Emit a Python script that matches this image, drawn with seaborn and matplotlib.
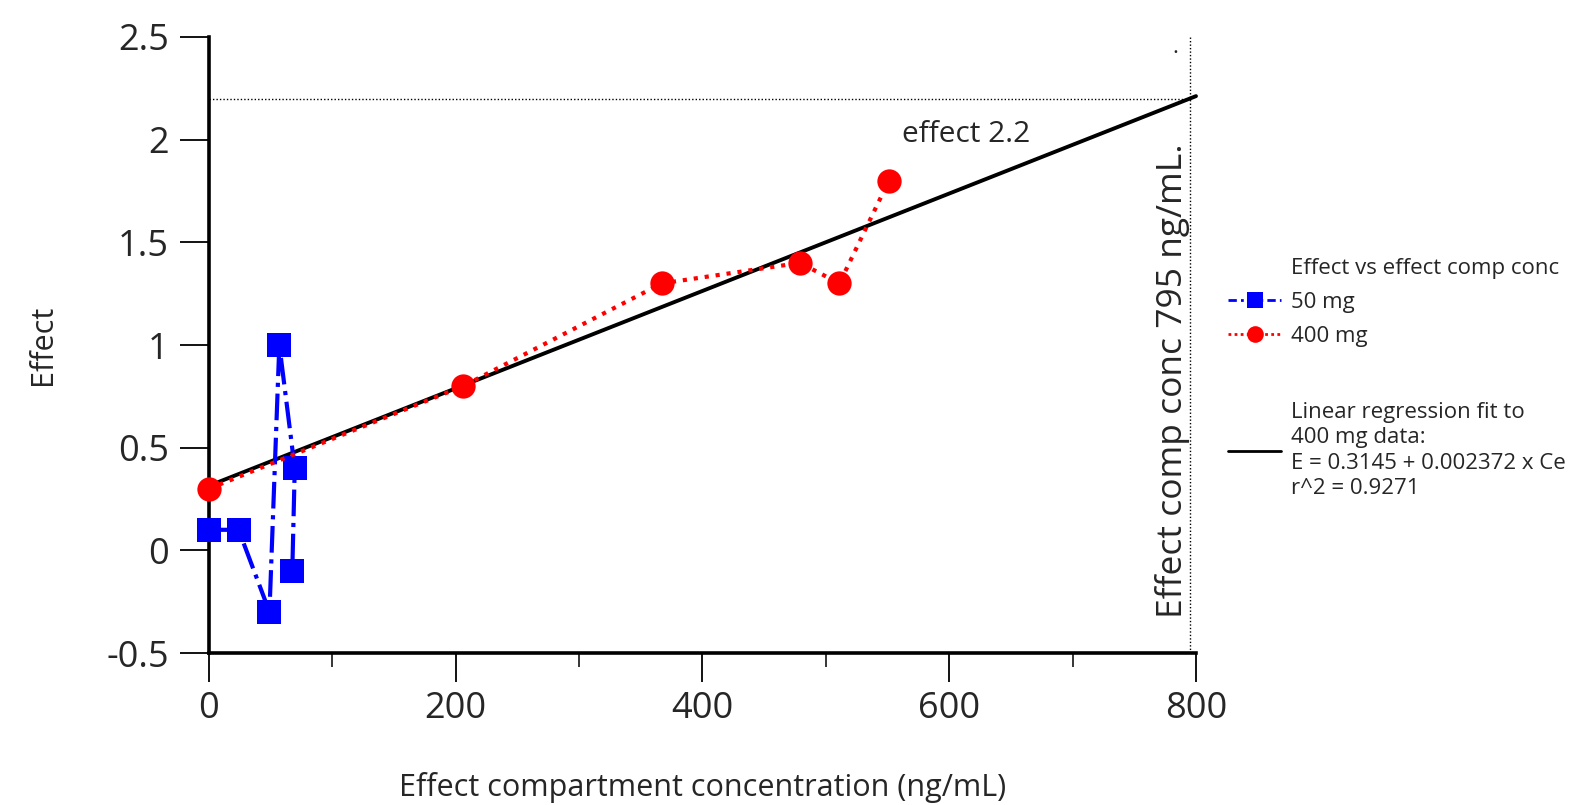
import numpy as np
import seaborn as sns
import matplotlib.pyplot as plt
from matplotlib.lines import Line2D
from matplotlib.ticker import FormatStrFormatter

# 50 mg dose: effect compartment concentration (ng/mL) vs effect
conc_50 = [0, 24, 49, 57, 69.5, 67.5]
effect_50 = [0.1, 0.1, -0.3, 1.0, 0.4, -0.1]
# 400 mg dose
conc_400 = [0, 206, 367, 479, 511, 551]
effect_400 = [0.3, 0.8, 1.3, 1.4, 1.3, 1.8]

# linear regression fit to the 400 mg data
fit_intercept = 0.3145
fit_slope = 0.002372
fit_range = [0, 800]
target_effect = 2.2
target_conc = 795

xticks = [0, 200, 400, 600, 800]
xminor = [100, 300, 500, 700]
yticks = [-0.5, 0, 0.5, 1, 1.5, 2, 2.5]

sns.set_style("ticks")
plt.rcParams["font.family"] = ["Open Sans", "DejaVu Sans"]
plt.rcParams["axes.unicode_minus"] = False

fig = plt.figure(figsize=(15.84, 8.05), dpi=100)
ax = fig.add_axes([209 / 1584, 1 - 653 / 805, 987 / 1584, 616 / 805])

fit_x = np.array(fit_range, dtype=float)
fit_y = fit_intercept + fit_slope * fit_x
sns.lineplot(x=fit_x, y=fit_y, color="black", lw=2.8, ax=ax, legend=False,
             clip_on=False, zorder=3)

# reference lines for effect 2.2
ax.hlines(target_effect, 0, target_conc, colors="black", lw=1, linestyles=(0, (1, 1.5)))
ax.vlines(target_conc, yticks[0], yticks[-1], colors="black", lw=1, linestyles=(0, (1, 1.5)))

sns.lineplot(x=conc_50, y=effect_50, sort=False, estimator=None, color="blue",
             ls="-.", lw=3, marker="s", ms=17, mec="blue", mew=0, ax=ax,
             legend=False, clip_on=False, zorder=4)
sns.lineplot(x=conc_400, y=effect_400, sort=False, estimator=None, color="red",
             ls=":", lw=3, marker="o", ms=17.5, mec="red", mew=0, ax=ax,
             legend=False, clip_on=False, zorder=5)

ax.text(562, 1.99, "effect 2.2", fontsize=21.5, ha="left", va="baseline")
ax.text(781, -0.33, "Effect comp conc 795 ng/mL.", fontsize=25.5, rotation=90,
        ha="center", va="bottom")
ax.text(783, 2.42, ".", fontsize=16, ha="center")

ax.set_xlim(fit_range)
ax.set_ylim(yticks[0], yticks[-1])
ax.set_xticks(xticks)
ax.set_xticks(xminor, minor=True)
ax.set_yticks(yticks)
ax.yaxis.set_major_formatter(FormatStrFormatter("%g"))
ax.tick_params(axis="both", which="major", direction="out", length=21, width=1.3,
               labelsize=26, color="black")
ax.tick_params(axis="x", which="major", pad=6)
ax.tick_params(axis="y", which="major", pad=8)
ax.tick_params(axis="x", which="minor", direction="out", length=10, width=1.3)
sns.despine(ax=ax)
for side in ["left", "bottom"]:
    ax.spines[side].set_linewidth(2.6)
    ax.spines[side].set_color("black")

ax.set_xlabel("Effect compartment concentration (ng/mL)", fontsize=22)
ax.set_ylabel("Effect", fontsize=22)
ax.xaxis.set_label_coords(0.5, -(772 - 653) / 616)
ax.yaxis.set_label_coords(-(209 - 58) / 987, 0.5)

blank = Line2D([], [], color="none")
h50 = Line2D([], [], color="blue", ls=(0, (3, 1.5, 1, 1.5)), lw=2, marker="s", ms=12, mew=0)
h400 = Line2D([], [], color="red", ls=(0, (1, 1.2)), lw=2, marker="o", ms=12, mew=0)
leg1 = ax.legend([blank, h50, h400], ["Effect vs effect comp conc", "50 mg", "400 mg"],
                 loc="upper left", bbox_to_anchor=(1228 / 1584, 1 - 258 / 805),
                 bbox_transform=fig.transFigure, frameon=False, fontsize=16,
                 handlelength=2.4, handletextpad=0.45, borderpad=0, borderaxespad=0,
                 labelspacing=0.58)
ax.add_artist(leg1)
hfit = Line2D([], [], color="black", lw=2)
leg2 = ax.legend([hfit], ["Linear regression fit to\n400 mg data:\nE = 0.3145 + 0.002372 x Ce\nr^2 = 0.9271"],
                 loc="upper left", bbox_to_anchor=(1228 / 1584, 1 - 402 / 805),
                 bbox_transform=fig.transFigure, frameon=False, fontsize=16,
                 handlelength=2.4, handletextpad=0.45, borderpad=0, borderaxespad=0)
for t in leg2.get_texts():
    t.set_linespacing(1.28)

fig.savefig("out.png", dpi=100)
